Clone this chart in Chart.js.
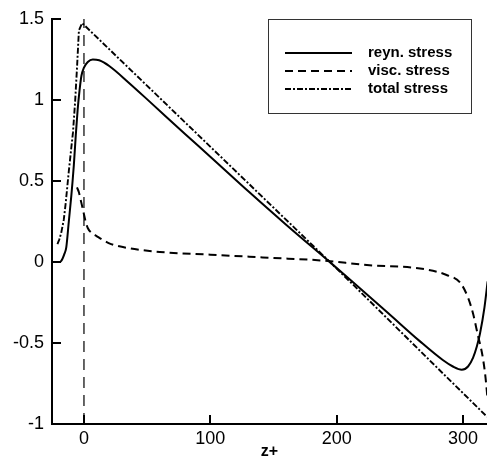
<!DOCTYPE html>
<html>
<head>
<meta charset="utf-8">
<script src="https://cdn.jsdelivr.net/npm/chart.js@4.4.0/dist/chart.umd.min.js"></script>
<style>
  html, body { margin: 0; padding: 0; background: #fff; }
  .wrap { width: 487px; height: 462px; }
</style>
</head>
<body>
<div class="wrap"><canvas id="stress"></canvas></div>
<script>
// data (z+ vs stress)
const reynX = [-25.3, -19, -17, -15.5, -14, -12, -10, -9, -8, -6.5, -5, -3.5, -2, 0, 3, 7, 12, 20, 35, 52, 80, 100, 131, 160, 196, 213, 240, 266, 284, 292, 299, 304, 308, 311, 313.5, 317, 319.5];
const reynY = [0, 0, 0.02, 0.05, 0.09, 0.25, 0.41, 0.5, 0.6, 0.78, 0.94, 1.06, 1.15, 1.2, 1.235, 1.25, 1.245, 1.21, 1.11, 0.99, 0.79, 0.65, 0.43, 0.23, -0.01, -0.125, -0.31, -0.49, -0.605, -0.645, -0.665, -0.645, -0.59, -0.52, -0.44, -0.28, -0.12];

const viscX = [-5.5, -4, -2.5, -1, 1, 3, 6, 10, 14, 20, 24.5, 40, 60, 100, 150, 187, 226, 266, 287, 298, 304, 308, 312, 315, 317.5, 319.5];
const viscY = [0.46, 0.43, 0.38, 0.33, 0.26, 0.21, 0.18, 0.16, 0.14, 0.115, 0.103, 0.08, 0.062, 0.045, 0.025, 0.01, -0.02, -0.04, -0.08, -0.13, -0.22, -0.32, -0.46, -0.56, -0.69, -0.85];

const wallX = [0, 0];
const wallY = [-1, 1.5];

const totalX = [-21, -19.5, -18, -16, -14.5, -13.5, -12, -10.5, -8.7, -7, -5.5, -4, -1.5, 196, 213, 287, 319];
const totalY = [0.11, 0.14, 0.18, 0.26, 0.36, 0.44, 0.56, 0.67, 0.8, 0.99, 1.2, 1.43, 1.475, -0.01, -0.14, -0.71, -0.955];

const xTicks = [0, 100, 200, 300];
const yTicks = [-1, -0.5, 0, 0.5, 1, 1.5];

const seriesNames = ["reyn. stress", "visc. stress", "total stress"];

const toPts = (xs, ys) => xs.map((x, i) => ({ x: x, y: ys[i] }));

const FONT = "'Liberation Sans', Arial, Helvetica, sans-serif";

// little inward tick marks like the original plot
const innerTicks = {
  id: "innerTicks",
  afterDraw(chart) {
    const ctx = chart.ctx;
    const area = chart.chartArea;
    const xs = chart.scales.x, ys = chart.scales.y;
    ctx.save();
    ctx.strokeStyle = "#000";
    ctx.lineWidth = 2;
    ctx.beginPath();
    xTicks.forEach((v) => {
      const px = Math.round(xs.getPixelForValue(v));
      ctx.moveTo(px, area.bottom);
      ctx.lineTo(px, area.bottom - 9);
    });
    yTicks.forEach((v) => {
      const py = Math.round(ys.getPixelForValue(v));
      ctx.moveTo(area.left, py);
      ctx.lineTo(area.left + 9, py);
    });
    ctx.stroke();
    ctx.restore();
  },
};

// boxed legend in the top right corner
const boxLegend = {
  id: "boxLegend",
  afterDraw(chart) {
    const ctx = chart.ctx;
    const area = chart.chartArea;
    const bx = area.right - 219, by = area.top;
    ctx.save();
    ctx.strokeStyle = "#333";
    ctx.lineWidth = 1;
    ctx.strokeRect(bx + 0.5, by + 0.5, 203, 94);
    ctx.font = "bold 15px " + FONT;
    ctx.textBaseline = "middle";
    ctx.fillStyle = "#000";
    seriesNames.forEach((name, i) => {
      const ds = chart.data.datasets[i];
      const ly = by + 34 + i * 18;
      ctx.beginPath();
      ctx.setLineDash(ds.borderDash || []);
      ctx.lineWidth = ds.borderWidth;
      ctx.strokeStyle = "#000";
      ctx.moveTo(bx + 17, ly);
      ctx.lineTo(bx + 84, ly);
      ctx.stroke();
      ctx.setLineDash([]);
      ctx.fillText(name, bx + 100, ly);
    });
    ctx.restore();
  },
};

const ctx = document.getElementById("stress").getContext("2d");

new Chart(ctx, {
  type: "line",
  data: {
    datasets: [
      {
        label: seriesNames[0],
        data: toPts(reynX, reynY),
        borderColor: "#000",
        borderWidth: 2,
        pointRadius: 0,
        cubicInterpolationMode: "monotone",
      },
      {
        label: seriesNames[1],
        data: toPts(viscX, viscY),
        borderColor: "#000",
        borderWidth: 2,
        borderDash: [8, 5],
        pointRadius: 0,
        cubicInterpolationMode: "monotone",
      },
      {
        label: seriesNames[2],
        data: toPts(totalX, totalY),
        borderColor: "#000",
        borderWidth: 1.9,
        borderDash: [6, 2, 2, 2],
        pointRadius: 0,
        tension: 0,
      },
      {
        label: "wall",
        data: toPts(wallX, wallY),
        borderColor: "#000",
        borderWidth: 1.2,
        borderDash: [11, 7],
        pointRadius: 0,
      },
    ],
  },
  options: {
    responsive: true,
    maintainAspectRatio: false,
    animation: false,
    layout: { padding: { top: 19, right: 0, left: 0, bottom: 0 } },
    plugins: {
      legend: { display: false },
      tooltip: { enabled: false },
    },
    scales: {
      x: {
        type: "linear",
        min: -25.3,
        max: 319,
        afterBuildTicks: (axis) => {
          axis.ticks = xTicks.map((v) => ({ value: v }));
        },
        afterFit: (axis) => {
          axis.height = 38;
        },
        grid: { display: true, drawOnChartArea: false, drawTicks: false },
        border: { display: true, color: "#000", width: 2 },
        ticks: {
          color: "#000",
          padding: 4,
          maxRotation: 0,
          font: { family: FONT, size: 18 },
          callback: (v) => String(v),
        },
        title: {
          display: true,
          text: "z+",
          color: "#000",
          padding: { top: 0, bottom: 1 },
          font: { family: FONT, size: 16, weight: "bold" },
        },
      },
      y: {
        type: "linear",
        min: -1,
        max: 1.5,
        afterBuildTicks: (axis) => {
          axis.ticks = yTicks.map((v) => ({ value: v }));
        },
        afterFit: (axis) => {
          axis.width = 52;
        },
        grid: { display: true, drawOnChartArea: false, drawTicks: false },
        border: { display: true, color: "#000", width: 2 },
        ticks: {
          color: "#000",
          padding: 8,
          font: { family: FONT, size: 18 },
          callback: (v) => String(v),
        },
      },
    },
  },
  plugins: [innerTicks, boxLegend],
});
</script>
</body>
</html>
